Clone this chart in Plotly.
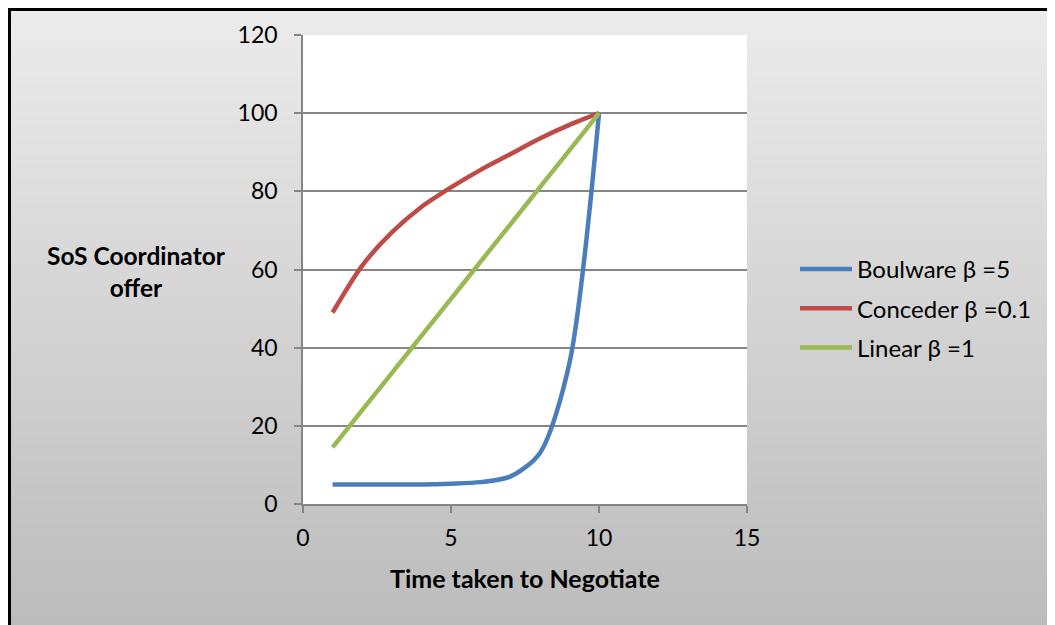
import plotly.graph_objects as go
import numpy as np

# ---- data ----
time_steps = [1, 2, 3, 4, 5, 6, 7, 8, 9, 10]
boulware = [5, 5, 5, 5, 5.2, 5.6, 7, 13, 36, 100]
conceder = [49, 61, 69.5, 76, 81, 85.5, 89.5, 93.5, 97, 100]
linear = [14.5, 24, 33.5, 43, 52.5, 62, 71.5, 81, 90.5, 100]
series_names = ["Boulware \u03b2 =5", "Conceder \u03b2 =0.1", "Linear \u03b2 =1"]
series_colors = ["#4A7EBB", "#BE4B48", "#98B954"]
x_title = "Time taken to Negotiate"
y_title = "SoS Coordinator<br>offer"

# page body has an 8px margin: figure coords = screen coords - 8
OFF = 8
W, H = 1055, 625
L, T = 303 - OFF, 35 - OFF
R = W - (747 - OFF)
B = H - (504 - OFF)
pw, ph = W - L - R, H - T - B

def px_x(p):
    return (p - OFF - L) / pw

def px_y(p):
    return (H - B - (p - OFF)) / ph

FONT = "Lato"

fig = go.Figure()
for name, vals, col, g in zip(series_names, [boulware, conceder, linear], series_colors, ["a", "b", "c"]):
    fig.add_trace(go.Scatter(x=time_steps, y=vals, mode="lines", name=name,
                             line=dict(color=col, width=4.5, shape="spline", smoothing=0.8),
                             legendgroup=g))

shapes = []
n = 80
for i in range(n):
    y0 = i * H / n
    y1 = (i + 1) * H / n + 0.5
    f = i / (n - 1)
    c0 = np.array([0xEC, 0xEC, 0xEC])
    c1 = np.array([0xBC, 0xBC, 0xBC])
    c = (c0 + (c1 - c0) * f).astype(int)
    shapes.append(dict(type="rect", xref="paper", yref="paper", layer="below",
                       x0=px_x(-20), x1=px_x(W + 20), y0=px_y(y1 + OFF), y1=px_y(y0 + OFF - 1),
                       line=dict(width=0), fillcolor="rgb(%d,%d,%d)" % tuple(c)))
shapes.append(dict(type="rect", xref="x", yref="y", layer="below", x0=0, x1=15, y0=0, y1=120,
                   line=dict(width=0), fillcolor="white"))
shapes.append(dict(type="rect", xref="paper", yref="paper", layer="above",
                   x0=px_x(9.5), x1=px_x(W + 40), y0=px_y(H + 40), y1=px_y(9.5),
                   line=dict(color="black", width=3), fillcolor="rgba(0,0,0,0)"))

fig.update_layout(
    width=W, height=H,
    margin=dict(l=L, r=R, t=T, b=B, pad=0),
    paper_bgcolor="#d4d4d4",
    plot_bgcolor="rgba(0,0,0,0)",
    font=dict(family=FONT, size=23, color="black"),
    shapes=shapes,
    showlegend=True,
    legend=dict(x=px_x(795), y=px_y(247), xanchor="left", yanchor="top",
                bgcolor="rgba(0,0,0,0)", font=dict(size=24, family=FONT),
                traceorder="grouped", tracegroupgap=5, itemwidth=52),
    xaxis=dict(range=[0, 15], tickvals=[0, 5, 10, 15], showgrid=False, zeroline=False,
               showline=True, linecolor="#868686", linewidth=1.5,
               ticks="outside", ticklen=7, tickcolor="#868686", tickwidth=1.5,
               tickfont=dict(size=23), ticklabelstandoff=6, fixedrange=True),
    yaxis=dict(range=[0, 120], tickvals=[0, 20, 40, 60, 80, 100, 120], showgrid=True,
               gridcolor="#868686", gridwidth=1.5, zeroline=False,
               showline=True, linecolor="#868686", linewidth=1.5,
               ticks="outside", ticklen=7, tickcolor="#868686", tickwidth=1.5,
               tickfont=dict(size=23), ticklabelstandoff=12, fixedrange=True),
    annotations=[
        dict(text="<b>" + x_title + "</b>", xref="paper", yref="paper",
             x=px_x(525), y=px_y(578), xanchor="center", yanchor="middle",
             showarrow=False, font=dict(size=25, family=FONT)),
        dict(text="<b>" + y_title + "</b>", xref="paper", yref="paper",
             x=px_x(136), y=px_y(271), xanchor="center", yanchor="middle",
             showarrow=False, font=dict(size=24.5, family=FONT)),
    ],
)

fig.write_html("out.html")
